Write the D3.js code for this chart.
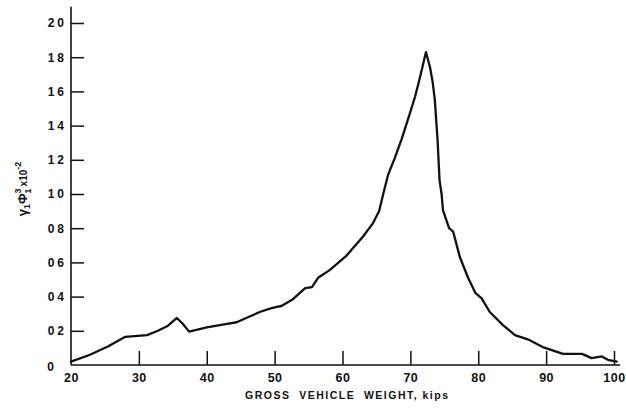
<!DOCTYPE html>
<html>
<head>
<meta charset="utf-8">
<script src="https://cdn.jsdelivr.net/npm/d3@7"></script>
<style>
  html, body { margin: 0; padding: 0; background: #fff; }
  svg { display: block; }
  text { font-family: "Liberation Sans", Arial, sans-serif; fill: #111; }
</style>
</head>
<body>
<svg id="chart" width="626" height="409"></svg>
<script>
// Gross vehicle weight (kips)
const weights = [20, 22.8, 25.5, 28, 31.2, 32.8, 34.3, 35.6, 36.5, 37.4, 40, 43, 44.4, 46.4, 47.8, 49.3, 50.3, 51, 52.7,
  54.5, 55.5, 56.4, 58.1, 60.6, 63, 64.5, 65.4, 66, 66.7, 67.7, 68.7, 69.6, 70.7, 71.4, 72.3,
  72.9, 73.3, 73.6, 74.0, 74.3, 74.6, 74.8, 75.7, 76.3, 77.3, 78.5, 79.6, 80.5, 81.7, 83.6, 85.4,
  87.3, 89.5, 92.5, 95.3, 96.7, 98.2, 99.1, 100.4];
// Damage function  γ1·Φ1³ (×10⁻²)
const damage = [0.02, 0.06, 0.11, 0.165, 0.175, 0.2, 0.23, 0.275, 0.24, 0.195, 0.22, 0.24, 0.25, 0.285, 0.31, 0.33, 0.34, 0.345, 0.385,
  0.45, 0.455, 0.51, 0.555, 0.64, 0.75, 0.83, 0.9, 1.0, 1.11, 1.21, 1.32, 1.43, 1.57, 1.68, 1.83,
  1.74, 1.65, 1.55, 1.32, 1.08, 1.0, 0.905, 0.8, 0.78, 0.63, 0.51, 0.42, 0.39, 0.31, 0.235, 0.175,
  0.15, 0.105, 0.065, 0.065, 0.04, 0.05, 0.03, 0.02];

const xTicks = [20, 30, 40, 50, 60, 70, 80, 90, 100];
const yTicks = [0, 0.2, 0.4, 0.6, 0.8, 1.0, 1.2, 1.4, 1.6, 1.8, 2.0];
const yTickLabels = ["0", "02", "04", "06", "08", "10", "12", "14", "16", "18", "20"];

const svg = d3.select("#chart");
const x = d3.scaleLinear().domain([20, 100]).range([71, 614]);
const y = d3.scaleLinear().domain([0, 2.0]).range([365, 23]);

// axis lines
svg.append("line")
  .attr("x1", x(20)).attr("x2", x(100.9))
  .attr("y1", y(0)).attr("y2", y(0))
  .attr("stroke", "#111").attr("stroke-width", 1.6);
svg.append("line")
  .attr("x1", x(20)).attr("x2", x(20))
  .attr("y1", y(0)).attr("y2", y(2.095))
  .attr("stroke", "#111").attr("stroke-width", 1.6);

// x axis: ticks point up into the plot
const gx = svg.append("g")
  .attr("transform", `translate(0,${y(0)})`)
  .call(d3.axisBottom(x).tickValues(xTicks).tickSizeInner(-14).tickSizeOuter(0).tickPadding(4)
    .tickFormat(d => String(d)));
gx.select(".domain").remove();
gx.selectAll(".tick line").attr("stroke", "#111").attr("stroke-width", 1.5)
  .attr("opacity", d => d === 20 ? 0 : 1);
gx.selectAll(".tick text")
  .attr("font-size", 12.5).attr("font-weight", "bold").attr("letter-spacing", 0.5)
  .attr("dy", "1.0em").attr("fill", "#111");

// y axis: ticks point right into the plot
const gy = svg.append("g")
  .attr("transform", `translate(${x(20)},0)`)
  .call(d3.axisLeft(y).tickValues(yTicks).tickSizeInner(-13).tickSizeOuter(0).tickPadding(5)
    .tickFormat((d, i) => yTickLabels[i]));
gy.select(".domain").remove();
gy.selectAll(".tick line").attr("stroke", "#111").attr("stroke-width", 1.5)
  .attr("opacity", d => d === 0 ? 0 : 1);
gy.selectAll(".tick text")
  .attr("font-size", 12).attr("font-weight", "bold").attr("letter-spacing", 3)
  .attr("fill", "#111")
  .attr("x", d => d === 0 ? -14 : -4)
  .attr("dy", d => d === 0 ? "0.45em" : "0.32em");

// curve
const line = d3.line()
  .x((d, i) => x(weights[i]))
  .y(d => y(d))
  .curve(d3.curveLinear);
svg.append("path")
  .datum(damage)
  .attr("d", line)
  .attr("fill", "none")
  .attr("stroke", "#111")
  .attr("stroke-width", 2.3)
  .attr("stroke-linejoin", "round")
  .attr("stroke-linecap", "round");

// x axis title
svg.append("text")
  .attr("x", 245).attr("y", 399)
  .attr("font-size", 10.5).attr("font-weight", "bold")
  .attr("textLength", 203).attr("lengthAdjust", "spacing")
  .attr("xml:space", "preserve")
  .text("GROSS  VEHICLE  WEIGHT, kips");

// y axis title
const yt = svg.append("text")
  .attr("transform", "translate(27,189) rotate(-90)")
  .attr("text-anchor", "middle")
  .attr("font-size", 13).attr("font-weight", "bold");
yt.append("tspan").text("γ");
yt.append("tspan").attr("font-size", 9).attr("dy", 3).text("1");
yt.append("tspan").attr("dy", -3).text("Φ");
yt.append("tspan").attr("font-size", 9).attr("dy", -6).text("3");
yt.append("tspan").attr("font-size", 9).attr("dx", -5).attr("dy", 10).text("1");
yt.append("tspan").attr("font-size", 10).attr("dx", 2).attr("dy", -4).text("x10");
yt.append("tspan").attr("font-size", 9).attr("dy", -6).text("-2");
</script>
</body>
</html>
